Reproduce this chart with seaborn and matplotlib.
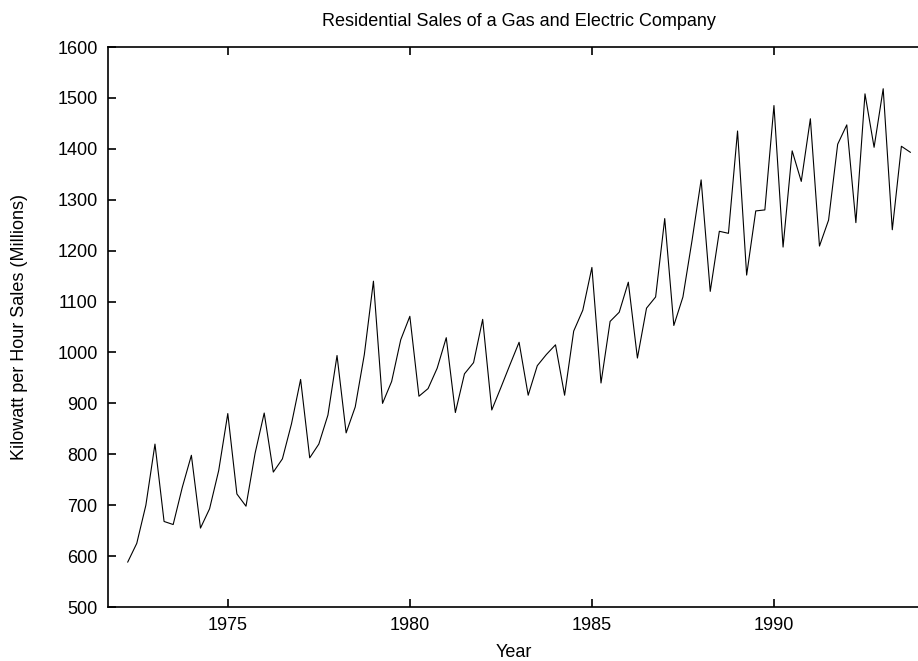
import numpy as np
import pandas as pd
import matplotlib
matplotlib.use("Agg")
import matplotlib.pyplot as plt
import seaborn as sns

# Quarterly residential sales (millions of kWh)
start_year = 1972.25
sales = [588, 625, 700, 820,
         668, 662, 735, 798,
         655, 693, 768, 880,
         722, 698, 802, 881,
         765, 791, 860, 947,
         793, 820, 877, 994,
         842, 893, 996, 1140,
         900, 943, 1025, 1071,
         914, 929, 969, 1029,
         882, 958, 980, 1065,
         887, 931, 976, 1020,
         916, 974, 996, 1015,
         916, 1042, 1083, 1167,
         940, 1061, 1079, 1138,
         989, 1087, 1109, 1263,
         1053, 1109, 1220, 1339,
         1120, 1238, 1234, 1435,
         1152, 1278, 1280, 1485,
         1207, 1396, 1336, 1459,
         1209, 1260, 1409, 1447,
         1255, 1508, 1403, 1518,
         1241, 1405, 1393]
time = start_year + np.arange(len(sales)) / 4.0

x_ticks = [1975, 1980, 1985, 1990]
y_ticks = list(range(500, 1601, 100))

title = "Residential Sales of a Gas and Electric Company"
xlabel = "Year"
ylabel = "Kilowatt per Hour Sales (Millions)"

df = pd.DataFrame({"Year": time, "Sales": sales})

sns.set_theme(style="white")
plt.rcParams["font.family"] = ["Liberation Sans", "DejaVu Sans"]

W, H = 918, 661
L, R, T, B = 108, 919.6, 47, 607
fig = plt.figure(figsize=(W / 100, H / 100), dpi=100)
ax = fig.add_axes([L / W, 1 - B / H, (R - L) / W, (B - T) / H])

sns.lineplot(data=df, x="Year", y="Sales", ax=ax, color="black", linewidth=0.8)

ax.set_xlim(1971.71, 1994.0)
ax.set_ylim(500, 1600)
ax.set_xticks(x_ticks)
ax.set_yticks(y_ticks)
ax.tick_params(axis="both", which="major", direction="in", length=5.5, width=1.2,
               color="black", labelsize=13, labelcolor="black", pad=7.5,
               top=True, bottom=True, left=True, right=False)

for side in ["left", "bottom", "top"]:
    ax.spines[side].set_visible(True)
    ax.spines[side].set_color("black")
    ax.spines[side].set_linewidth(1.2)
ax.spines["right"].set_visible(False)
ax.grid(False)

fs = 13
ax.set_xlabel(xlabel, fontsize=fs, color="black")
ax.xaxis.label.set_verticalalignment("baseline")
ax.xaxis.set_label_coords(0.5, -(657 - B) / (B - T))

ax.set_ylabel(ylabel, fontsize=fs, color="black")
ax.yaxis.label.set_verticalalignment("center")
ax.yaxis.label.set_horizontalalignment("center")
ax.yaxis.set_label_coords((19.7 - L) / (R - L), 0.5)

ax.set_title(title, fontsize=fs, color="black", pad=0,
             x=(518.5 - L) / (R - L), y=(B - 26) / (B - T), va="baseline")

fig.savefig("out.png", dpi=100)
